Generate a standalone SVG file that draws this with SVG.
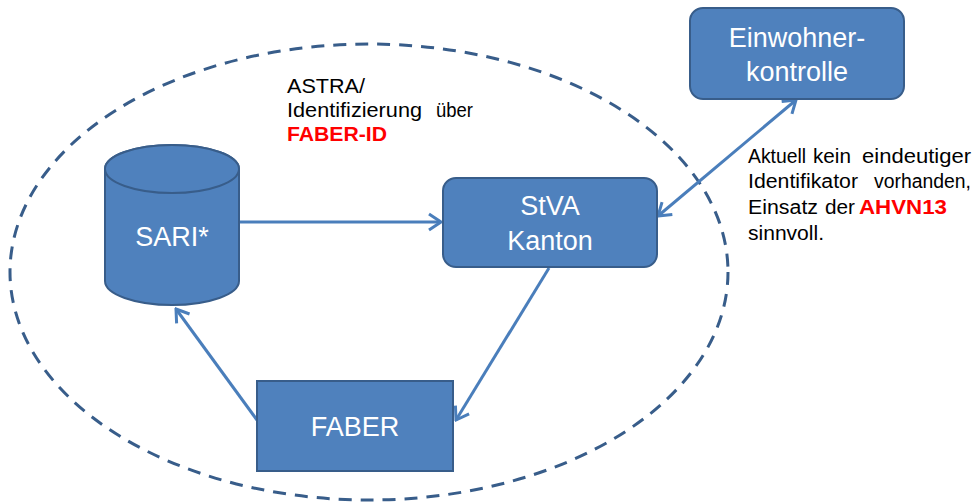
<svg xmlns="http://www.w3.org/2000/svg" width="973" height="504" viewBox="0 0 973 504">
  <style>
    .node { fill: #4f81bd; stroke: #385d8a; stroke-width: 2; }
    .ntext { fill: #ffffff; font-family: "Liberation Sans", Arial, sans-serif; font-size: 27px; text-anchor: middle; }
    .conn { stroke: #4a7ebb; stroke-width: 3; fill: none; }
    .big { fill: #000000; font-family: "Liberation Sans", Arial, sans-serif; font-size: 21px; }
    .small { fill: #000000; font-family: "Liberation Sans", Arial, sans-serif; font-size: 19.5px; }
    .red { fill: #ff0000; font-weight: bold; }
    .boundary { fill: none; stroke: #385d8a; stroke-width: 3; stroke-dasharray: 13 9; }
  </style>
  <defs>
    <marker id="arrow" viewBox="-15 -10 17 20" refX="0" refY="0" markerUnits="userSpaceOnUse" markerWidth="17" markerHeight="20" orient="auto-start-reverse">
      <path d="M-12,-8 L0,0 L-12,8" fill="none" stroke="#4a7ebb" stroke-width="3" stroke-linejoin="miter"/>
    </marker>
  </defs>
  <rect width="973" height="504" fill="#ffffff"/>

  <g id="boundary">
    <ellipse class="boundary" cx="369" cy="272" rx="359" ry="228"/>
  </g>

  <g id="connectors">
    <line class="conn" x1="240" y1="222" x2="441" y2="222" marker-end="url(#arrow)"/>
    <line class="conn" x1="549" y1="268" x2="456" y2="420" marker-end="url(#arrow)"/>
    <line class="conn" x1="257" y1="420" x2="176" y2="309" marker-end="url(#arrow)"/>
    <line class="conn" x1="658" y1="216" x2="796" y2="100" marker-start="url(#arrow)" marker-end="url(#arrow)"/>
  </g>

  <g id="sari">
    <path class="node" d="M105,169 L105,281 A67,24 0 0 0 239,281 L239,169 A67,24 0 0 0 105,169 Z"/>
    <ellipse class="node" cx="172" cy="169" rx="67" ry="24"/>
    <text class="ntext" x="172" y="246">SARI*</text>
  </g>

  <g id="stva">
    <rect class="node" x="443" y="178" width="214" height="89" rx="13"/>
    <text class="ntext" x="550" y="215">StVA</text>
    <text class="ntext" x="550" y="250">Kanton</text>
  </g>

  <g id="einwohnerkontrolle">
    <rect class="node" x="690" y="8" width="214" height="91" rx="13"/>
    <text class="ntext" x="797" y="47">Einwohner-</text>
    <text class="ntext" x="797" y="81">kontrolle</text>
  </g>

  <g id="faber">
    <rect class="node" x="257" y="381" width="196" height="90"/>
    <text class="ntext" x="355" y="436">FABER</text>
  </g>

  <g id="astra-label">
    <text class="big" x="287" y="92.5" textLength="78" lengthAdjust="spacingAndGlyphs">ASTRA/</text>
    <text class="big" x="287" y="117" textLength="135" lengthAdjust="spacingAndGlyphs">Identifizierung</text>
    <text class="big" x="436" y="117" textLength="37" lengthAdjust="spacingAndGlyphs">über</text>
    <text class="big red" x="287" y="141" textLength="100" lengthAdjust="spacingAndGlyphs">FABER-ID</text>
  </g>

  <g id="note-label">
    <text class="small" x="748" y="162.5" textLength="58" lengthAdjust="spacingAndGlyphs">Aktuell</text>
    <text class="small" x="813" y="162.5" textLength="38" lengthAdjust="spacingAndGlyphs">kein</text>
    <text class="small" x="862" y="162.5" textLength="109" lengthAdjust="spacingAndGlyphs">eindeutiger</text>
    <text class="small" x="748" y="188" textLength="110" lengthAdjust="spacingAndGlyphs">Identifikator</text>
    <text class="small" x="874" y="188" textLength="97" lengthAdjust="spacingAndGlyphs">vorhanden,</text>
    <text class="small" x="748" y="214" textLength="70" lengthAdjust="spacingAndGlyphs">Einsatz</text>
    <text class="small" x="825" y="214" textLength="30" lengthAdjust="spacingAndGlyphs">der</text>
    <text class="small red" x="859" y="214" textLength="88" lengthAdjust="spacingAndGlyphs">AHVN13</text>
    <text class="small" x="748" y="240" textLength="76" lengthAdjust="spacingAndGlyphs">sinnvoll.</text>
  </g>
</svg>
